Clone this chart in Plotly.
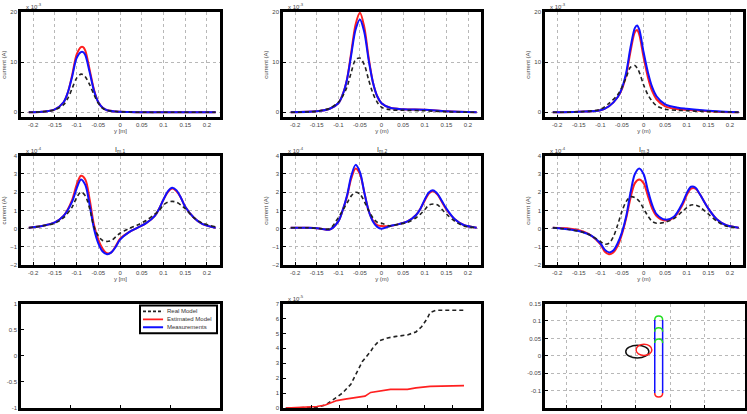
import plotly.graph_objects as go
from plotly.subplots import make_subplots

# ---------------- Row 1 : currents (x 10^-3) ----------------
p1_x = [-0.21, -0.18, -0.15, -0.13, -0.12, -0.11, -0.10, -0.09, -0.085, -0.08, -0.07, -0.06, -0.05, -0.04, -0.03, -0.01, 0.02, 0.06, 0.12, 0.18, 0.22]
p1_red = [0, 0.1, 0.6, 2.0, 4.0, 7.5, 11.5, 13.0, 13.0, 12.3, 8.5, 4.5, 2.0, 0.9, 0.4, 0.15, 0.05, 0, 0, 0, 0]
p1_blue = [0, 0.1, 0.6, 2.0, 4.0, 7.2, 10.8, 12.0, 12.0, 11.4, 8.0, 4.3, 2.0, 0.9, 0.4, 0.15, 0.05, 0, 0, 0, 0]
p1_black = [0, 0.1, 0.5, 1.5, 2.8, 4.8, 6.8, 7.6, 7.5, 7.1, 5.5, 3.5, 1.8, 0.8, 0.4, 0.15, 0.05, 0, 0, 0, 0]

p2_x = [-0.21, -0.15, -0.12, -0.1, -0.09, -0.08, -0.07, -0.06, -0.05, -0.04, -0.03, -0.02, -0.01, 0, 0.02, 0.05, 0.1, 0.15, 0.22]
p2_red = [0, 0.2, 0.7, 1.8, 3.5, 6.5, 12, 17.5, 19.8, 17, 11, 6, 3.2, 1.8, 0.9, 0.6, 0.5, 0.2, 0]
p2_blue = [0, 0.2, 0.7, 1.8, 3.5, 6.5, 11.5, 16.5, 18.5, 16, 10.5, 6, 3.2, 1.8, 0.9, 0.6, 0.5, 0.2, 0]
p2_black = [0, 0.2, 0.8, 2.0, 3.2, 5.0, 8.0, 10.5, 10.8, 9.5, 6.5, 3.8, 2.0, 1.0, 0.5, 0.4, 0.3, 0.1, 0]

p3_x = [-0.21, -0.15, -0.1, -0.08, -0.06, -0.05, -0.04, -0.03, -0.02, -0.015, -0.01, 0, 0.01, 0.02, 0.03, 0.05, 0.08, 0.1, 0.13, 0.17, 0.22]
p3_blue = [0, 0.1, 0.4, 1.2, 3.0, 4.8, 8.0, 13.0, 16.8, 17.3, 16.5, 12.0, 8.0, 5.0, 3.2, 1.6, 0.9, 0.7, 0.45, 0.2, 0]
p3_red = [0, 0.1, 0.4, 1.2, 3.0, 4.6, 7.5, 12.2, 16.0, 16.4, 15.5, 11.0, 7.0, 4.2, 2.6, 1.2, 0.6, 0.5, 0.3, 0.1, 0]
p3_black = [0, 0.1, 0.6, 1.8, 3.5, 5.0, 7.0, 9.0, 9.3, 8.8, 8.0, 5.5, 3.5, 2.2, 1.3, 0.6, 0.4, 0.3, 0.2, 0.1, 0]

# ---------------- Row 2 : I_m,k (x 10^-4) ----------------
p4_x = [-0.21, -0.18, -0.15, -0.13, -0.11, -0.1, -0.09, -0.08, -0.07, -0.06, -0.05, -0.04, -0.03, -0.02, -0.01, 0, 0.02, 0.04, 0.06, 0.08, 0.09, 0.1, 0.11, 0.12, 0.13, 0.14, 0.15, 0.17, 0.19, 0.22]
p4_blue = [0.05, 0.15, 0.35, 0.7, 1.5, 2.2, 2.7, 2.4, 1.3, 0.0, -0.8, -1.25, -1.4, -1.3, -1.0, -0.6, -0.2, 0.05, 0.3, 0.7, 1.1, 1.6, 2.05, 2.25, 2.1, 1.7, 1.2, 0.6, 0.25, 0.05]
p4_red = [0.05, 0.15, 0.35, 0.7, 1.6, 2.4, 2.9, 2.7, 1.6, 0.2, -0.6, -1.1, -1.35, -1.3, -0.95, -0.55, -0.2, 0.05, 0.3, 0.7, 1.1, 1.6, 2.0, 2.2, 2.05, 1.7, 1.2, 0.6, 0.25, 0.05]
p4_black = [0.05, 0.15, 0.3, 0.6, 1.2, 1.7, 2.0, 1.8, 1.1, 0.1, -0.4, -0.65, -0.7, -0.65, -0.45, -0.25, 0.0, 0.2, 0.45, 0.8, 1.0, 1.3, 1.45, 1.5, 1.45, 1.3, 1.1, 0.6, 0.3, 0.1]

p5_x = [-0.21, -0.17, -0.14, -0.12, -0.1, -0.09, -0.08, -0.07, -0.06, -0.05, -0.04, -0.03, -0.02, -0.01, 0, 0.02, 0.04, 0.06, 0.08, 0.09, 0.1, 0.11, 0.12, 0.13, 0.14, 0.15, 0.17, 0.19, 0.22]
p5_blue = [0.05, 0.05, 0.0, -0.05, 0.4, 1.0, 1.8, 2.9, 3.5, 3.1, 2.0, 1.0, 0.4, 0.1, 0.0, 0.15, 0.25, 0.4, 0.75, 1.1, 1.6, 2.0, 2.1, 1.9, 1.5, 1.1, 0.5, 0.2, 0.05]
p5_red = [0.05, 0.05, 0.0, -0.05, 0.4, 1.0, 1.75, 2.75, 3.3, 3.0, 2.0, 1.0, 0.45, 0.2, 0.15, 0.15, 0.25, 0.4, 0.75, 1.1, 1.55, 1.95, 2.05, 1.85, 1.45, 1.05, 0.5, 0.2, 0.05]
p5_black = [0.05, 0.05, 0.0, 0.0, 0.6, 1.0, 1.4, 1.8, 2.0, 1.9, 1.5, 1.0, 0.6, 0.35, 0.3, 0.15, 0.25, 0.35, 0.6, 0.8, 1.05, 1.3, 1.35, 1.3, 1.05, 0.8, 0.4, 0.15, 0.05]

p6_x = [-0.21, -0.17, -0.14, -0.12, -0.1, -0.09, -0.08, -0.07, -0.06, -0.05, -0.04, -0.03, -0.02, -0.01, 0, 0.01, 0.02, 0.03, 0.05, 0.07, 0.09, 0.1, 0.11, 0.12, 0.13, 0.15, 0.17, 0.19, 0.22]
p6_blue = [0.05, -0.05, -0.2, -0.4, -0.8, -1.15, -1.3, -1.2, -0.8, -0.2, 0.7, 2.0, 3.0, 3.3, 3.0, 2.1, 1.3, 0.8, 0.5, 0.65, 1.4, 1.95, 2.3, 2.25, 1.9, 1.1, 0.5, 0.2, 0.05]
p6_red = [0.05, 0.0, -0.15, -0.4, -0.85, -1.25, -1.4, -1.3, -0.95, -0.3, 0.6, 1.7, 2.5, 2.7, 2.5, 1.8, 1.1, 0.7, 0.45, 0.6, 1.3, 1.85, 2.2, 2.2, 1.9, 1.1, 0.5, 0.2, 0.05]
p6_black = [0.05, -0.05, -0.2, -0.4, -0.7, -0.85, -0.8, -0.45, 0.2, 0.95, 1.5, 1.75, 1.7, 1.5, 1.1, 0.7, 0.4, 0.3, 0.35, 0.55, 0.95, 1.15, 1.3, 1.3, 1.2, 0.8, 0.4, 0.15, 0.05]

# ---------------- Row 3 middle : error curves (x 10^-5) ----------------
err_real_x = [1, 6, 12, 15, 18, 21, 24, 26, 28, 31, 32, 34, 37, 40, 44, 47, 49, 51, 52, 54, 58, 64]
err_real_y = [0, 0, 0.05, 0.2, 0.6, 1.0, 1.6, 2.4, 3.1, 3.8, 4.1, 4.5, 4.7, 4.8, 4.9, 5.1, 5.45, 6.0, 6.4, 6.55, 6.55, 6.55]
err_est_x = [1, 12, 15, 19, 22, 26, 29, 31, 34, 38, 44, 47, 52, 59, 64]
err_est_y = [0, 0.1, 0.2, 0.5, 0.6, 0.7, 0.8, 1.05, 1.15, 1.25, 1.25, 1.35, 1.45, 1.5, 1.5]

# ---------------- Row 3 right : geometry ----------------
ell_names = ["black", "red"]
ell_cx = [0.0024, 0.012]
ell_cy = [0.012, 0.017]
ell_rx = [0.0167, 0.0114]
ell_ry = [0.018, 0.016]
cap_x = [0.0333]
cap_rx = [0.0057]
cap_ry = [0.0113]
cap_y_bottom = [-0.107]
cap_y_top = [0.103]
green_arc_y = [0.103, 0.069, 0.037]

# labels
legend_names = ["Real Model", "Estimated Model", "Measurements"]
legend_colors = ["#222", "#ff2020", "#1010ff"]
legend_dash = ["dash", "solid", "solid"]
row2_titles = ["I<sub>m,1</sub>", "I<sub>m,2</sub>", "I<sub>m,3</sub>"]
xlabels = ["y [m]", "y (m)", "y (m)"]
xticks = [-0.2, -0.15, -0.1, -0.05, 0, 0.05, 0.1, 0.15, 0.2]
xticktext = ["-0.2", "-0.15", "-0.1", "-0.05", "0", "0.05", "0.1", "0.15", "0.2"]

FONT = "Liberation Sans, Arial, sans-serif"
fig = make_subplots(rows=3, cols=3)

col_dom = [(0.0281, 0.2945), (0.3788, 0.6439), (0.7296, 0.9946)]
row_dom = [(0.7198, 0.9783), (0.3575, 0.6256), (0.0072, 0.2633)]

panels = [
    (1, 1, p1_x, p1_black, p1_red, p1_blue),
    (1, 2, p2_x, p2_black, p2_red, p2_blue),
    (1, 3, p3_x, p3_black, p3_red, p3_blue),
    (2, 1, p4_x, p4_black, p4_red, p4_blue),
    (2, 2, p5_x, p5_black, p5_red, p5_blue),
    (2, 3, p6_x, p6_black, p6_red, p6_blue),
]
for i, (r, c, x, bk, rd, bl) in enumerate(panels):
    fig.add_trace(go.Scatter(x=x, y=rd, mode="lines", name=legend_names[1], showlegend=False,
                             line=dict(color="#ff2020", width=2, shape="spline", smoothing=0.9)), row=r, col=c)
    fig.add_trace(go.Scatter(x=x, y=bl, mode="lines", name=legend_names[2], showlegend=False,
                             line=dict(color="#1010ff", width=2, shape="spline", smoothing=0.9)), row=r, col=c)
    fig.add_trace(go.Scatter(x=x, y=bk, mode="lines", name=legend_names[0], showlegend=False,
                             line=dict(color="#222", width=1.6, dash="4px,3px", shape="spline", smoothing=0.9)), row=r, col=c)

# empty axes in the bottom-left panel (holds only the legend)
fig.add_trace(go.Scatter(x=[None], y=[None], mode="lines", showlegend=False, hoverinfo="skip"), row=3, col=1)

fig.add_trace(go.Scatter(x=err_real_x, y=err_real_y, mode="lines", showlegend=False,
                         line=dict(color="#222", width=1.6, dash="4px,3px")), row=3, col=2)
fig.add_trace(go.Scatter(x=err_est_x, y=err_est_y, mode="lines", showlegend=False,
                         line=dict(color="#ff2020", width=1.6)), row=3, col=2)

axis_common = dict(showline=True, linecolor="black", linewidth=2.5, mirror=True, ticks="inside",
                   ticklen=3, tickcolor="black", tickfont=dict(size=6, color="#444", family=FONT),
                   zeroline=False, showgrid=False)
grid = dict(showgrid=True, gridcolor="#b8b8b8", griddash="dot", gridwidth=1)

for r in range(1, 4):
    for c in range(1, 4):
        fig.update_xaxes(domain=col_dom[c - 1], row=r, col=c, **axis_common)
        fig.update_yaxes(domain=row_dom[r - 1], row=r, col=c, **axis_common)

for r in (1, 2):
    for c in (1, 2, 3):
        fig.update_xaxes(range=[-0.228, 0.23], tickvals=xticks, ticktext=xticktext, row=r, col=c,
                         title=dict(text=xlabels[c - 1], font=dict(size=6, color="#444", family=FONT), standoff=1), **grid)
        fig.update_yaxes(row=r, col=c, title=dict(text="current (A)", font=dict(size=6, color="#444", family=FONT), standoff=4), **grid)
        if r == 1:
            fig.update_yaxes(range=[-1, 20], tickvals=[0, 10, 20], row=r, col=c)
        else:
            fig.update_yaxes(range=[-2, 4], tickvals=[-2, -1, 0, 1, 2, 3, 4], row=r, col=c)

# bottom row
fig.update_xaxes(range=[0, 1], tickvals=[0.25, 0.5, 0.75], showticklabels=False, row=3, col=1)
fig.update_yaxes(range=[-1, 1], tickvals=[-1, -0.5, 0, 0.5, 1], ticktext=["-1", "-0.5", "0", "0.5", "1"], row=3, col=1)
fig.update_xaxes(range=[0, 70], tickvals=[10, 20, 30, 40, 50, 60], showticklabels=False, row=3, col=2)
fig.update_yaxes(range=[0, 7], tickvals=[0, 1, 2, 3, 4, 5, 6, 7], row=3, col=2)
fig.update_xaxes(range=[-0.131, 0.158], tickvals=[-0.1, -0.05, 0, 0.05, 0.1], showticklabels=False, row=3, col=3,
                 domain=(0.7296, 0.9973), **grid)
fig.update_yaxes(range=[-0.15, 0.15], tickvals=[-0.1, -0.05, 0, 0.05, 0.1, 0.15],
                 ticktext=["-0.1", "-0.05", "0", "0.05", "0.1", "0.15"], row=3, col=3, **grid)

# geometry shapes in panel 9
ell_colors = {"black": "#111", "red": "#ff2020"}
for n, cx, cy, rx, ry in zip(ell_names, ell_cx, ell_cy, ell_rx, ell_ry):
    fig.add_shape(type="circle", xref="x9", yref="y9", x0=cx - rx, x1=cx + rx, y0=cy - ry, y1=cy + ry,
                  line=dict(color=ell_colors[n], width=1.5))
cx, rx, ry = cap_x[0], cap_rx[0], cap_ry[0]
for xx in (cx - rx, cx + rx):
    fig.add_shape(type="line", xref="x9", yref="y9", x0=xx, x1=xx, y0=cap_y_bottom[0], y1=cap_y_top[0],
                  line=dict(color="#1010ff", width=1.5))
yb = cap_y_bottom[0]
fig.add_shape(type="path", xref="x9", yref="y9",
              path=f"M {cx-rx},{yb} C {cx-rx},{yb-1.333*ry} {cx+rx},{yb-1.333*ry} {cx+rx},{yb}",
              line=dict(color="#ff2020", width=1.5))
for gy in green_arc_y:
    fig.add_shape(type="path", xref="x9", yref="y9",
                  path=f"M {cx-rx},{gy} C {cx-rx},{gy+1.333*ry} {cx+rx},{gy+1.333*ry} {cx+rx},{gy}",
                  line=dict(color="#22dd22", width=1.5))

# legend drawn inside the bottom-left axes (x7/y7 data coordinates)
leg_box = dict(x0=0.598, x1=0.985, y0=0.434, y1=0.962)
leg_item_y = [0.849, 0.698, 0.547]
leg_line_x = [0.613, 0.714]
leg_text_x = 0.724
fig.add_shape(type="rect", xref="x7", yref="y7", **leg_box, line=dict(color="black", width=2),
              fillcolor="white")
for name, col, dsh, yy in zip(legend_names, legend_colors, legend_dash, leg_item_y):
    fig.add_shape(type="line", xref="x7", yref="y7", x0=leg_line_x[0], x1=leg_line_x[1], y0=yy, y1=yy,
                  line=dict(color=col, width=1.8, dash="3px,2px" if dsh == "dash" else "solid"))
    fig.add_annotation(text=name, xref="x7", yref="y7", x=leg_text_x, y=yy, xanchor="left", yanchor="middle",
                       showarrow=False, font=dict(size=6, color="#333", family=FONT))

# annotations
ann_font = dict(size=6, color="#444", family=FONT)
for c in range(3):
    fig.add_annotation(text="x 10<sup>-3</sup>", xref="paper", yref="paper", x=col_dom[c][0] + 0.004,
                       y=row_dom[0][1], xanchor="left", yanchor="bottom", showarrow=False, font=ann_font)
    fig.add_annotation(text="x 10<sup>-4</sup>", xref="paper", yref="paper", x=col_dom[c][0] + 0.004,
                       y=row_dom[1][1], xanchor="left", yanchor="bottom", showarrow=False, font=ann_font)
    fig.add_annotation(text=row2_titles[c], xref="paper", yref="paper", x=(col_dom[c][0] + col_dom[c][1]) / 2,
                       y=row_dom[1][1], xanchor="center", yanchor="bottom", showarrow=False,
                       font=dict(size=7, color="#333", family=FONT))
fig.add_annotation(text="x 10<sup>-5</sup>", xref="paper", yref="paper", x=col_dom[1][0] + 0.004,
                   y=row_dom[2][1], xanchor="left", yanchor="bottom", showarrow=False, font=ann_font)

fig.update_layout(
    width=747, height=414, margin=dict(l=0, r=0, t=0, b=0),
    plot_bgcolor="white", paper_bgcolor="white", showlegend=False,
    font=dict(family=FONT, size=7, color="#333"),
)

fig.write_html("out.html")
